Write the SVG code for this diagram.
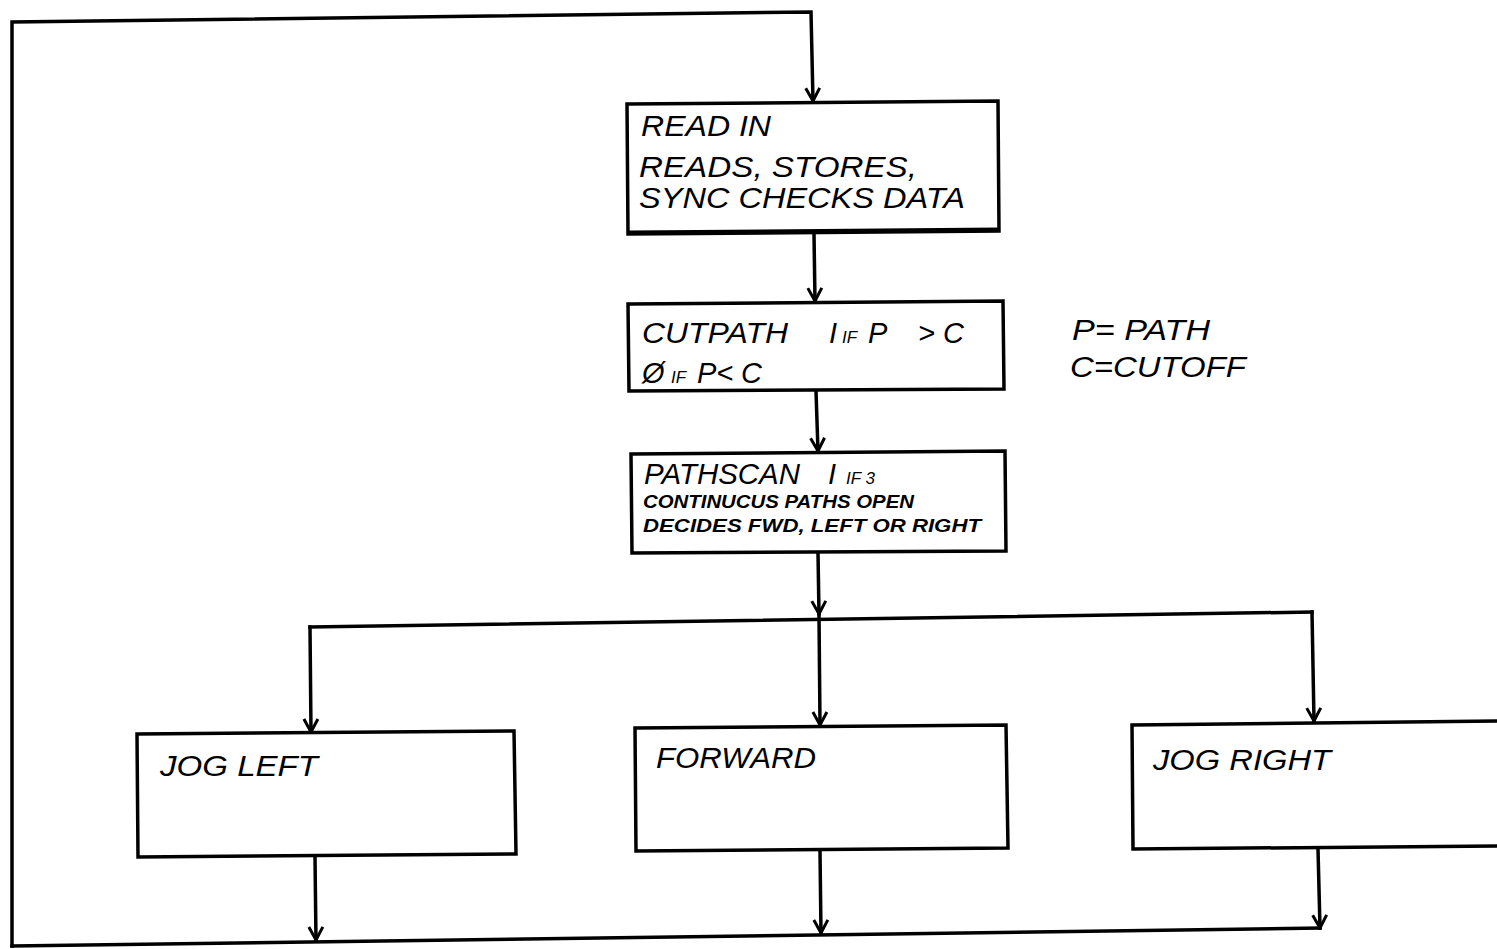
<svg xmlns="http://www.w3.org/2000/svg" width="1497" height="949" viewBox="0 0 1497 949">
<style>
.ln{fill:none;stroke:#000;stroke-width:3.5;stroke-linecap:square}
.bx{fill:#fff;stroke:#000;stroke-width:3.5}
.t{font-family:"Liberation Sans",Arial,sans-serif;font-style:italic;fill:#000}
.l{font-size:29px}
.m{font-size:17px}
.s{font-size:18px;font-weight:bold}
</style>
<defs>
<marker id="v" viewBox="0 0 20 20" refX="18" refY="10" markerWidth="20" markerHeight="20" markerUnits="userSpaceOnUse" orient="auto">
<path d="M5,3 L18,10 L5,17" fill="none" stroke="#000" stroke-width="3"/>
</marker>
</defs>
<g id="connectors">
<path class="ln" d="M12,946 L12,22 L811,12 L813,101" marker-end="url(#v)"/>
<path class="ln" d="M814,234 L815,301" marker-end="url(#v)"/>
<path class="ln" d="M816,391 L818,451" marker-end="url(#v)"/>
<path class="ln" d="M818,553 L819,614" marker-end="url(#v)"/>
<path class="ln" d="M310,627 L1312,612"/>
<path class="ln" d="M310,627 L311,732" marker-end="url(#v)"/>
<path class="ln" d="M819,615 L820,725" marker-end="url(#v)"/>
<path class="ln" d="M1312,612 L1314,721" marker-end="url(#v)"/>
<path class="ln" d="M12,946 L1320,928"/>
<path class="ln" d="M315,857 L316,940" marker-end="url(#v)"/>
<path class="ln" d="M820,851 L821,933" marker-end="url(#v)"/>
<path class="ln" d="M1318,849 L1320,928" marker-end="url(#v)"/>
</g>
<g id="readin">
<path class="bx" d="M627,104 L998,101 L999,231 L628,234 Z"/>
<path d="M628,232 L999,229" stroke="#000" stroke-width="3"/>
<text class="t l" x="641" y="136" textLength="130" lengthAdjust="spacingAndGlyphs">READ IN</text>
<text class="t l" x="639" y="177" textLength="278" lengthAdjust="spacingAndGlyphs">READS, STORES,</text>
<text class="t l" x="639" y="208" textLength="326" lengthAdjust="spacingAndGlyphs">SYNC CHECKS  DATA</text>
</g>
<g id="cutpath">
<path class="bx" d="M628,304 L1003,301 L1004,389 L629,391 Z"/>
<text class="t l" x="642" y="343" textLength="146" lengthAdjust="spacingAndGlyphs">CUTPATH</text>
<text class="t l" x="829" y="343">I</text>
<text class="t m" x="842" y="343">IF</text>
<text class="t l" x="868" y="343">P</text>
<text class="t l" x="918" y="343">&gt;</text>
<text class="t l" x="943" y="343">C</text>
<text class="t l" x="642" y="383">Ø</text>
<text class="t m" x="671" y="383">IF</text>
<text class="t l" x="697" y="383">P&lt;</text>
<text class="t l" x="741" y="383">C</text>
</g>
<g id="pathscan">
<path class="bx" d="M631,454 L1005,451 L1006,551 L632,553 Z"/>
<text class="t l" x="644" y="484" textLength="156" lengthAdjust="spacingAndGlyphs">PATHSCAN</text>
<text class="t l" x="828" y="484">I</text>
<text class="t m" x="846" y="484">IF 3</text>
<text class="t s" x="643" y="508" textLength="271" lengthAdjust="spacingAndGlyphs">CONTINUCUS PATHS OPEN</text>
<text class="t s" x="643" y="532" textLength="338" lengthAdjust="spacingAndGlyphs">DECIDES  FWD, LEFT OR RIGHT</text>
</g>
<g id="legend">
<text class="t l" x="1072" y="340" textLength="138" lengthAdjust="spacingAndGlyphs">P= PATH</text>
<text class="t l" x="1070" y="377" textLength="176" lengthAdjust="spacingAndGlyphs">C=CUTOFF</text>
</g>
<g id="jogleft">
<path class="bx" d="M137,734 L514,731 L516,854 L138,857 Z"/>
<text class="t l" x="160" y="776" textLength="158" lengthAdjust="spacingAndGlyphs">JOG LEFT</text>
</g>
<g id="forward">
<path class="bx" d="M635,728 L1006,725 L1008,848 L636,851 Z"/>
<text class="t l" x="656" y="768" textLength="160" lengthAdjust="spacingAndGlyphs">FORWARD</text>
</g>
<g id="jogright">
<path class="bx" d="M1132,725 L1500,721 L1500,846 L1133,849 Z"/>
<text class="t l" x="1153" y="770" textLength="178" lengthAdjust="spacingAndGlyphs">JOG RIGHT</text>
</g>
</svg>
